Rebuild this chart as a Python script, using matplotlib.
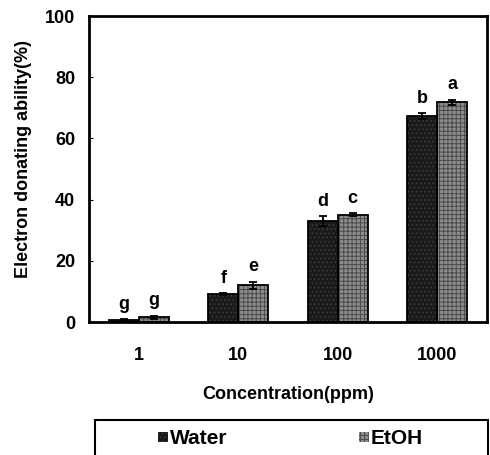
import matplotlib
matplotlib.use("Agg")
import matplotlib.pyplot as plt
from matplotlib.patches import Rectangle
import numpy as np

# данные
concentrations = ['1', '10', '100', '1000']
water = [0.8, 9.2, 33.0, 67.3]
water_err = [0.2, 0.3, 1.5, 1.0]
etoh = [1.5, 12.0, 35.0, 71.8]
etoh_err = [0.6, 1.2, 0.5, 0.9]
water_letters = ['g', 'f', 'd', 'b']
etoh_letters = ['g', 'e', 'c', 'a']

plt.rcParams['font.family'] = ['Liberation Sans', 'DejaVu Sans']
plt.rcParams['font.weight'] = 'bold'
plt.rcParams['hatch.linewidth'] = 0.7

fig = plt.figure(figsize=(4.9, 4.55), dpi=100)
ax = fig.add_axes([0.1816, 0.2923, 0.8123, 0.6725])

x = np.arange(len(concentrations))
w = 0.3
fs = 13

# заливка с штриховкой, потом чёрный контур
b1 = ax.bar(x - w / 2, water, w, color='#1a1a1a', edgecolor='#3c3c3c',
            linewidth=0, hatch='....', label='Water')
b2 = ax.bar(x + w / 2, etoh, w, color='#8e8e8e', edgecolor='#4a4a4a',
            linewidth=0, hatch='++++', label='EtOH')
ax.bar(x - w / 2, water, w, fill=False, edgecolor='black', linewidth=1.3,
       yerr=water_err, capsize=3,
       error_kw=dict(elinewidth=1.3, capthick=1.3, ecolor='black'))
ax.bar(x + w / 2, etoh, w, fill=False, edgecolor='black', linewidth=1.3,
       yerr=etoh_err, capsize=3,
       error_kw=dict(elinewidth=1.3, capthick=1.3, ecolor='black'))

# буквы над столбцами
for i in range(len(x)):
    ax.text(x[i] - w / 2, water[i] + water_err[i] + 3.3, water_letters[i],
            ha='center', va='baseline', fontsize=fs, fontweight='bold')
    ax.text(x[i] + w / 2, etoh[i] + etoh_err[i] + 3.5, etoh_letters[i],
            ha='center', va='baseline', fontsize=fs, fontweight='bold')

ax.set_xlim(-0.5, 3.5)
ax.set_ylim(0, 100)
ax.set_yticks([0, 20, 40, 60, 80, 100])
ax.set_xticks(x)
ax.set_xticklabels(concentrations)
ax.tick_params(axis='y', direction='in', length=3, pad=10, labelsize=fs)
ax.tick_params(axis='x', length=0, pad=18, labelsize=fs)
for s in ax.spines.values():
    s.set_linewidth(2)

ax.set_ylabel('Electron donating ability(%)', fontsize=fs, fontweight='bold')
ax.yaxis.set_label_coords(-0.143, 0.533)
ax.set_xlabel('Concentration(ppm)', fontsize=fs, fontweight='bold', labelpad=16)

# рамка легенды (снизу обрезана краем картинки)
fig.add_artist(Rectangle((95 / 490, -0.05), (488 - 95) / 490, (455 - 419.5) / 455 + 0.05,
                         transform=fig.transFigure, fill=False, edgecolor='black',
                         linewidth=1.5, clip_on=False))
leg = fig.legend(handles=[b1, b2], loc='center left', ncol=2,
                 bbox_to_anchor=(158 / 490, (455 - 439) / 455),
                 frameon=False, handlelength=0.48, handleheight=0.38,
                 handletextpad=0.1, columnspacing=6.3, borderpad=0,
                 borderaxespad=0, prop={'weight': 'bold', 'size': 15})

fig.savefig('out.png', dpi=100)
